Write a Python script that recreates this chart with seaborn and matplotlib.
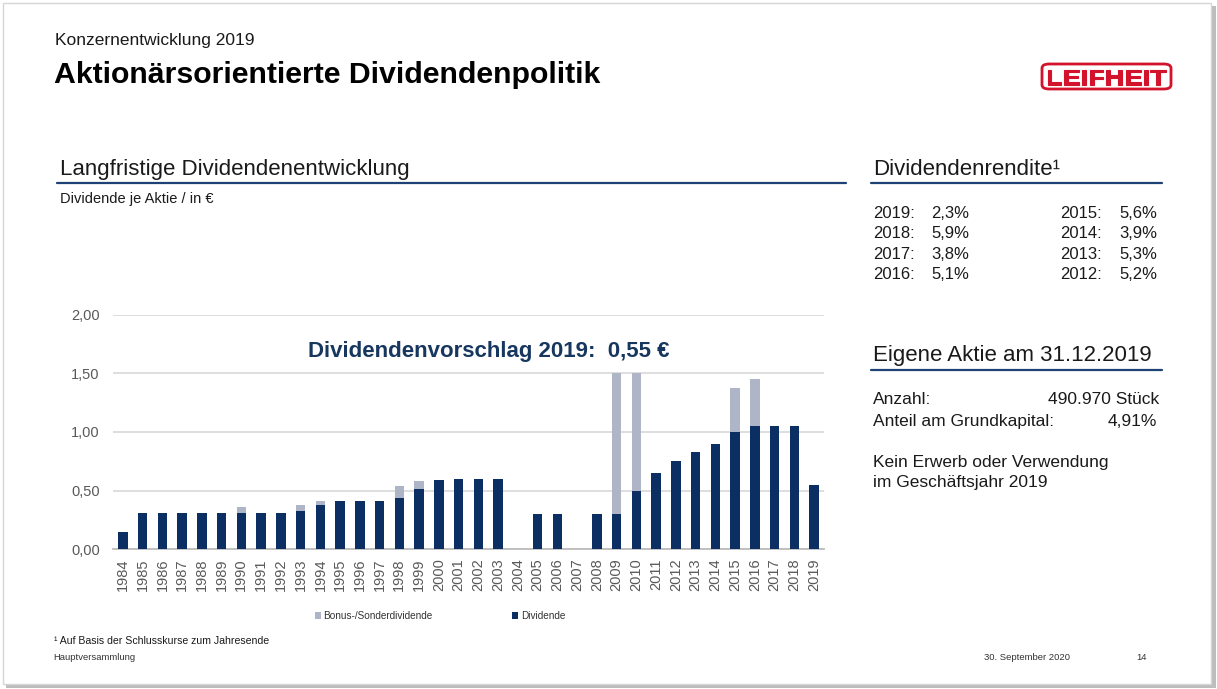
import matplotlib
matplotlib.use("Agg")
import matplotlib.pyplot as plt
import seaborn as sns
import pandas as pd
from matplotlib.patches import Patch, Rectangle, FancyBboxPatch, PathPatch
from matplotlib.lines import Line2D
from matplotlib.textpath import TextPath
from matplotlib.font_manager import FontProperties
from matplotlib.transforms import Affine2D

# ---------------- data ----------------
years = [str(y) for y in range(1984, 2020)]
dividend = [0.15, 0.31, 0.31, 0.31, 0.31, 0.31, 0.31, 0.31, 0.31, 0.33,
            0.38, 0.41, 0.41, 0.41, 0.44, 0.51, 0.59, 0.60, 0.60, 0.60,
            0.00, 0.30, 0.30, 0.00, 0.30, 0.30, 0.50, 0.65, 0.75, 0.825,
            0.90, 1.00, 1.05, 1.05, 1.05, 0.55]
bonus = [0.00, 0.00, 0.00, 0.00, 0.00, 0.00, 0.05, 0.00, 0.00, 0.05,
         0.03, 0.00, 0.00, 0.00, 0.10, 0.075, 0.00, 0.00, 0.00, 0.00,
         0.00, 0.00, 0.00, 0.00, 0.00, 1.20, 1.00, 0.00, 0.00, 0.00,
         0.00, 0.375, 0.40, 0.00, 0.00, 0.00]
y_ticks = [0.0, 0.5, 1.0, 1.5, 2.0]
y_tick_labels = ["0,00", "0,50", "1,00", "1,50", "2,00"]
series_names = ["Bonus-/Sonderdividende", "Dividende"]

rendite_left_years = ["2019:", "2018:", "2017:", "2016:"]
rendite_left_values = ["2,3%", "5,9%", "3,8%", "5,1%"]
rendite_right_years = ["2015:", "2014:", "2013:", "2012:"]
rendite_right_values = ["5,6%", "3,9%", "5,3%", "5,2%"]

df = pd.DataFrame({"Jahr": years, "Dividende": dividend, "Bonus": bonus})
df["Gesamt"] = df["Dividende"] + df["Bonus"]

# ---------------- style ----------------
NAVY = "#0b2f62"
GRAY = "#aeb5c6"
HEAD_LINE = "#1f4276"
TXT = "#1a1a1a"
TICK = "#595959"
RED = "#d3122b"

sns.set_theme(style="white")
plt.rcParams["font.family"] = ["Liberation Sans", "DejaVu Sans"]

W, H = 1217, 689
fig = plt.figure(figsize=(W / 100, H / 100), dpi=100)
fig.patch.set_facecolor("white")


def fx(px):
    return px / W


def fy(py):
    return 1 - py / H


# slide frame with shadow
fig.add_artist(Rectangle((fx(6), fy(688)), fx(1216) - fx(6), fy(6) - fy(688),
                         transform=fig.transFigure, facecolor="#bdbdbd",
                         edgecolor="none", zorder=-3))
fig.add_artist(Rectangle((fx(3), fy(684)), fx(1211) - fx(3), fy(3) - fy(684),
                         transform=fig.transFigure, facecolor="white",
                         edgecolor="#d6d6d6", lw=1.0, zorder=-2))

# ---------------- chart ----------------
ax = fig.add_axes([fx(113), fy(549.3), fx(824) - fx(113), (549.3 - 314.6) / H])
ax.set_zorder(2)
sns.barplot(data=df, x="Jahr", y="Gesamt", color=GRAY, saturation=1,
            width=0.47, errorbar=None, ax=ax, zorder=2, linewidth=0)
sns.barplot(data=df, x="Jahr", y="Dividende", color=NAVY, saturation=1,
            width=0.47, errorbar=None, ax=ax, zorder=3, linewidth=0)
ax.set_xlim(-0.5, len(years) - 0.5)
ax.set_ylim(0, 2.0)
ax.set_yticks(y_ticks)
ax.set_yticklabels(y_tick_labels)
ax.set_xlabel("")
ax.set_ylabel("")
ax.tick_params(axis="y", length=0, pad=9.5, labelsize=10.5, labelcolor=TICK)
ax.tick_params(axis="x", length=0, pad=6.5, labelsize=10.5, labelcolor=TICK,
               labelrotation=90)
ax.yaxis.grid(True, color="#d4d4d4", lw=1.1)
ax.set_axisbelow(True)
for s in ["top", "right", "left"]:
    ax.spines[s].set_visible(False)
ax.spines["bottom"].set_color("#bcbcbc")
ax.spines["bottom"].set_linewidth(1.3)
ax.set_facecolor("none")

# legend
handles = [Patch(facecolor=GRAY, edgecolor="none"),
           Patch(facecolor=NAVY, edgecolor="none")]
fig.legend(handles, series_names, loc="center", ncol=2,
           bbox_to_anchor=(fx(440), fy(616)), frameon=False,
           fontsize=7.2, handlelength=0.6, handleheight=0.6,
           handletextpad=0.25, columnspacing=8.0,
           labelcolor="#333333")

# annotation
fig.text(fx(488.5), fy(357.5), "Dividendenvorschlag 2019:  0,55 €",
         ha="center", va="baseline", fontsize=16, fontweight="bold",
         color="#17375f", zorder=5)

# ---------------- texts ----------------
fig.text(fx(55), fy(45), "Konzernentwicklung 2019", fontsize=12.5,
         color=TXT, va="baseline")
fig.text(fx(54), fy(83), "Aktionärsorientierte Dividendenpolitik",
         fontsize=21.8, fontweight="bold", color="black", va="baseline")

fig.text(fx(60), fy(175), "Langfristige Dividendenentwicklung",
         fontsize=16, color=TXT, va="baseline")
fig.add_artist(Line2D([fx(57), fx(846)], [fy(183)] * 2, color=HEAD_LINE,
                      lw=1.6, transform=fig.transFigure))
fig.text(fx(60), fy(203.5), "Dividende je Aktie / in €", fontsize=10.5,
         color=TXT, va="baseline")

fig.text(fx(873), fy(175), "Dividendenrendite¹", fontsize=16, color=TXT,
         va="baseline")
fig.add_artist(Line2D([fx(871), fx(1162)], [fy(183)] * 2, color=HEAD_LINE,
                      lw=1.6, transform=fig.transFigure))
row_base = [218.5, 238.5, 258.5, 278.5]
for i, yb in enumerate(row_base):
    fig.text(fx(873), fy(yb), rendite_left_years[i], fontsize=12, color=TXT,
             va="baseline")
    fig.text(fx(969.5), fy(yb), rendite_left_values[i], fontsize=12,
             color=TXT, va="baseline", ha="right")
    fig.text(fx(1060), fy(yb), rendite_right_years[i], fontsize=12,
             color=TXT, va="baseline")
    fig.text(fx(1157), fy(yb), rendite_right_values[i], fontsize=12,
             color=TXT, va="baseline", ha="right")

fig.text(fx(873), fy(361.5), "Eigene Aktie am 31.12.2019", fontsize=16,
         color=TXT, va="baseline")
fig.add_artist(Line2D([fx(871), fx(1162)], [fy(369.5)] * 2, color=HEAD_LINE,
                      lw=1.6, transform=fig.transFigure))
fig.text(fx(873), fy(404), "Anzahl:", fontsize=12.5, color=TXT, va="baseline")
fig.text(fx(1159.5), fy(404), "490.970 Stück", fontsize=12.5, color=TXT,
         va="baseline", ha="right")
fig.text(fx(873), fy(426), "Anteil am Grundkapital:", fontsize=12.5,
         color=TXT, va="baseline")
fig.text(fx(1157), fy(426), "4,91%", fontsize=12.5, color=TXT,
         va="baseline", ha="right")
fig.text(fx(873), fy(466.5), "Kein Erwerb oder Verwendung", fontsize=12.5,
         color=TXT, va="baseline")
fig.text(fx(873), fy(486.5), "im Geschäftsjahr 2019", fontsize=12.5,
         color=TXT, va="baseline")

# footer
fig.text(fx(54), fy(644), "¹ Auf Basis der Schlusskurse zum Jahresende",
         fontsize=7.6, color=TXT, va="baseline")
fig.text(fx(53), fy(660), "Hauptversammlung", fontsize=6.8, color="#333333",
         va="baseline")
fig.text(fx(984), fy(660), "30. September 2020", fontsize=6.8,
         color="#333333", va="baseline")
fig.text(fx(1136), fy(660), "14", fontsize=6.8, color="#333333",
         va="baseline")

# ---------------- logo ----------------
fig.add_artist(FancyBboxPatch((fx(1042), fy(89)), fx(1171) - fx(1042),
                              fy(64) - fy(89),
                              boxstyle="round,pad=0,rounding_size=0.006",
                              transform=fig.transFigure, facecolor="white",
                              edgecolor=RED, lw=2.0, zorder=3))
tp = TextPath((0, 0), "LEIFHEIT",
              prop=FontProperties(family="Liberation Sans", weight="bold"),
              size=10)
ext = tp.get_extents()
tw, th = ext.width, ext.height
x0, x1, ytop, ybot = 1047.5, 1166, 69.5, 84.5
sx = (x1 - x0) / tw
sy = (ybot - ytop) / th
tr = (Affine2D().translate(-ext.x0, -ext.y0).scale(sx / W, sy / H)
      .translate(fx(x0), fy(ybot)) + fig.transFigure)
fig.add_artist(PathPatch(tp, transform=tr, facecolor=RED, edgecolor=RED,
                         lw=0.8, zorder=4))

fig.savefig("out.png", dpi=100)
